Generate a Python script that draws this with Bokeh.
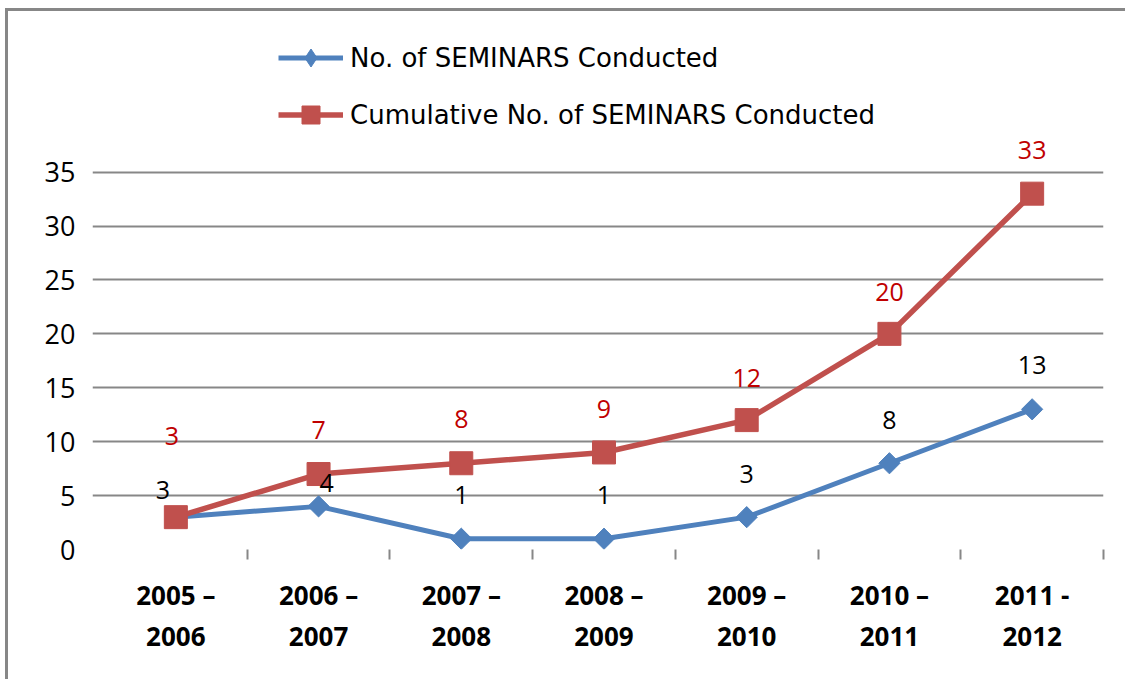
import math
from bokeh.plotting import figure
from bokeh.models import (ColumnDataSource, FixedTicker, LinearAxis, Legend,
                          LegendItem, Range1d)
from bokeh.core.properties import value
from bokeh.embed import file_html
from bokeh.resources import INLINE

# ---- data ----
period_start = ["2005 –", "2006 –", "2007 –", "2008 –", "2009 –", "2010 –", "2011 -"]
period_end = ["2006", "2007", "2008", "2009", "2010", "2011", "2012"]
seminars = [3, 4, 1, 1, 3, 8, 13]
cumulative = [3, 7, 8, 9, 12, 20, 33]
y_ticks = [0, 5, 10, 15, 20, 25, 30, 35]

# label nudges (screen px) so labels sit like in the original
seminars_label_dx = [-13, 8, 0, 0, 0, 0, 0]
seminars_label_dy = [-27, -23, -44, -44, -43, -43, -44]
cumulative_label_dx = [-4, 0, 0, 0, 0, 0, 0]
cumulative_label_dy = [-81, -44, -44, -43, -42, -42, -44]

idx = list(range(len(period_start)))

BLUE = "#4F81BD"
RED = "#C0504D"
GRID = "#878787"
FONT = "Open Sans"
LEGEND_FONT = "DejaVu Sans"

p = figure(width=1120, height=671, output_backend="svg", toolbar_location=None,
           x_range=Range1d(-0.584, len(idx) - 0.5), y_range=Range1d(0, 49.06),
           min_border_left=84, min_border_right=25, min_border_top=9,
           min_border_bottom=133)
p.outline_line_color = None
p.background_fill_color = "white"
p.border_fill_color = "white"
p.styles = {"margin-left": "5px", "margin-top": "8px",
            "border-top": "3px solid #878787", "border-left": "3px solid #878787"}

# y axis
p.yaxis.ticker = FixedTicker(ticks=y_ticks)
p.yaxis.axis_line_color = None
p.yaxis.major_tick_line_color = None
p.yaxis.minor_tick_line_color = None
p.yaxis.major_tick_out = 0
p.yaxis.major_label_standoff = 17
p.yaxis.major_label_text_font = FONT
p.yaxis.major_label_text_font_size = "27px"
p.yaxis.major_label_text_color = "black"
p.ygrid.grid_line_color = GRID
p.ygrid.grid_line_width = 2
p.xgrid.visible = False

# x axis: first label line + separator ticks
xa = p.xaxis[0]
xa.ticker = FixedTicker(ticks=idx, minor_ticks=[i + 0.5 for i in idx])
xa.axis_line_color = None
xa.major_tick_line_color = None
xa.major_tick_out = 0
xa.minor_tick_line_color = GRID
xa.minor_tick_line_width = 2
xa.minor_tick_out = 10
xa.minor_tick_in = 0
xa.major_label_overrides = {i: s for i, s in zip(idx, period_start)}
xa.major_label_standoff = 17
xa.major_label_text_font = FONT
xa.major_label_text_font_style = "bold"
xa.major_label_text_font_size = "26px"
xa.major_label_text_color = "black"

# x axis: second label line
xb = LinearAxis(ticker=FixedTicker(ticks=idx),
                major_label_overrides={i: s for i, s in zip(idx, period_end)})
xb.axis_line_color = None
xb.major_tick_line_color = None
xb.minor_tick_line_color = None
xb.major_tick_out = 0
xb.major_label_standoff = 11
xb.major_label_text_font = FONT
xb.major_label_text_font_style = "bold"
xb.major_label_text_font_size = "26px"
xb.major_label_text_color = "black"
p.add_layout(xb, "below")

src_b = ColumnDataSource(dict(x=idx, y=seminars, t=[str(v) for v in seminars],
                              dx=seminars_label_dx, dy=seminars_label_dy))
src_r = ColumnDataSource(dict(x=idx, y=cumulative, t=[str(v) for v in cumulative],
                              dx=cumulative_label_dx, dy=cumulative_label_dy))

bl = p.line("x", "y", source=src_b, line_color=BLUE, line_width=5)
bs = p.scatter("x", "y", source=src_b, marker="square", angle=math.pi / 4,
               size=15, fill_color=BLUE, line_color=BLUE)
rl = p.line("x", "y", source=src_r, line_color=RED, line_width=5.5)
rs = p.scatter("x", "y", source=src_r, marker="square", size=23,
               fill_color=RED, line_color=RED)

# legend-only diamond key (a single NaN point, so nothing is drawn in the plot)
key_b = p.scatter(x=[float("nan")], y=[float("nan")], marker="diamond",
                  fill_color=BLUE, line_color=BLUE)

p.text("x", "y", text="t", source=src_b, x_offset="dx", y_offset="dy",
       text_align="center", text_baseline="middle", text_color="black",
       text_font=value(FONT), text_font_size="25px")
p.text("x", "y", text="t", source=src_r, x_offset="dx", y_offset="dy",
       text_align="center", text_baseline="middle", text_color="#C00000",
       text_font=value(FONT), text_font_size="25px")

legend = Legend(items=[LegendItem(label="No. of SEMINARS Conducted", renderers=[bl, key_b]),
                       LegendItem(label="Cumulative No. of SEMINARS Conducted", renderers=[rl, rs])],
                location=(186, 412), orientation="vertical",
                glyph_width=65, glyph_height=45, label_standoff=7, spacing=12,
                padding=0, margin=0, border_line_color=None,
                background_fill_alpha=0,
                label_text_font=LEGEND_FONT, label_text_font_size="26px",
                label_text_color="black")
p.add_layout(legend)

open("out.html", "w").write(file_html(p, INLINE))
